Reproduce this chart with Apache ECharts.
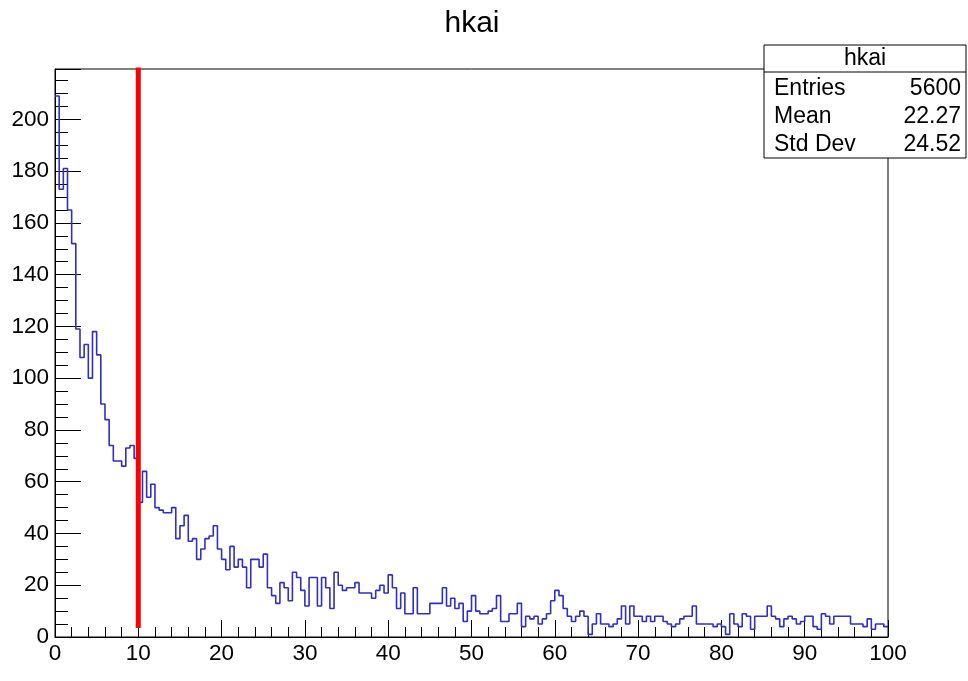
<!DOCTYPE html>
<html>
<head>
<meta charset="utf-8">
<script src="https://cdn.jsdelivr.net/npm/echarts@6/dist/echarts.min.js"></script>
<style>html,body{margin:0;padding:0;background:#fff;}#c{width:968px;height:681px;}</style>
</head>
<body>
<div id="c"></div>
<script>
// histogram "hkai": 200 bins from 0 to 100
const histTitle = 'hkai';
const binLow = 0;
const binHigh = 100;
const binCounts = [
209,173,181,165,152,119,108,113,100,118,
109,90,84,74,68,68,66,73,74,69,
52,64,54,59,50,49,48,48,50,38,
43,47,37,38,30,34,38,39,43,34,
30,26,35,27,30,27,19,30,30,27,
32,19,16,13,21,19,14,25,23,18,
12,23,23,12,23,19,11,25,20,18,
19,19,21,17,17,17,15,18,20,17,
24,19,11,17,9,9,19,9,9,9,
13,13,13,19,12,15,11,13,6,10,
16,10,9,9,10,11,16,6,6,9,
9,13,4,8,7,8,5,7,9,14,
18,16,11,8,6,8,10,8,1,5,
9,5,5,4,5,7,12,5,12,8,
8,6,8,6,8,8,6,5,4,5,
7,8,8,12,5,5,5,5,4,5,
4,1,9,5,4,9,8,3,8,8,
8,12,8,7,4,7,8,7,5,6,
8,8,4,3,9,8,5,8,8,8,
8,5,5,5,4,7,3,5,5,4
];
const statLabels = ['Entries', 'Mean', 'Std Dev'];
const statValues = ['5600', '22.27', '24.52'];
const cutLineX = [10, 10];
const cutLineY = [3.5, 220];
const xTickLabels = [0,10,20,30,40,50,60,70,80,90,100];
const yTickLabels = [0,20,40,60,80,100,120,140,160,180,200];
const yMax = 219.45;

const nb = binCounts.length;
const bw = (binHigh - binLow) / nb;
const histData = binCounts.map((v, i) => [binLow + i * bw, v]);
histData.push([binHigh, binCounts[nb - 1]]);

const font = '"Liberation Sans", Arial, Helvetica, sans-serif';
const chart = echarts.init(document.getElementById('c'), null, {renderer: 'canvas'});

const SX = 764, SY = 45, SW = 202, SH = 113;
const statFont = '23px ' + font;
chart.setOption({
  animation: false,
  backgroundColor: '#fff',
  grid: {left: 55, right: 80, top: 69, bottom: 44, show: true, borderColor: '#000', borderWidth: 1},
  xAxis: {
    type: 'value', min: binLow, max: binHigh, interval: 10,
    axisLine: {show: true, onZero: false, lineStyle: {color: '#000', width: 1}},
    axisTick: {show: true, inside: true, length: 17, lineStyle: {color: '#000', width: 1}},
    minorTick: {show: true, splitNumber: 5, length: 10, lineStyle: {color: '#000', width: 1}},
    splitLine: {show: false},
    axisLabel: {color: '#000', fontFamily: font, fontSize: 22.5, margin: 5,
      formatter: v => xTickLabels.indexOf(v) >= 0 ? String(v) : ''}
  },
  yAxis: {
    type: 'value', min: 0, max: yMax, interval: 20,
    axisLine: {show: true, onZero: false, lineStyle: {color: '#000', width: 1}},
    axisTick: {show: true, inside: true, length: 26, lineStyle: {color: '#000', width: 1}},
    minorTick: {show: true, splitNumber: 4, length: 13, lineStyle: {color: '#000', width: 1}},
    splitLine: {show: false},
    axisLabel: {color: '#000', fontFamily: font, fontSize: 22.5, margin: 6,
      formatter: v => yTickLabels.indexOf(v) >= 0 ? String(v) : ''}
  },
  series: [
    {
      type: 'line', step: 'end', data: histData, symbol: 'none',
      lineStyle: {color: '#2f2fc0', width: 1.6}, z: 3
    },
    {
      type: 'line', data: cutLineX.map((x, i) => [x, cutLineY[i]]), symbol: 'none', clip: false,
      lineStyle: {color: '#ff0000', width: 5}, z: 4
    }
  ],
  graphic: [
    {type: 'text', x: 472, y: 24, style: {text: histTitle, fill: '#000', font: '30px ' + font, textAlign: 'center', textVerticalAlign: 'middle'}, z: 101},
    {type: 'rect', shape: {x: SX, y: SY, width: SW, height: SH}, style: {fill: '#fff', stroke: '#000', lineWidth: 1}, z: 100},
    {type: 'line', shape: {x1: SX, y1: SY + 27, x2: SX + SW, y2: SY + 27}, style: {stroke: '#000', lineWidth: 1}, z: 101},
    {type: 'text', x: SX + SW / 2, y: SY + 14, style: {text: histTitle, fill: '#000', font: statFont, textAlign: 'center', textVerticalAlign: 'middle'}, z: 101},
    ...statLabels.map((t, i) => ({type: 'text', x: SX + 10, y: SY + 44 + i * 28, style: {text: t, fill: '#000', font: statFont, textAlign: 'left', textVerticalAlign: 'middle'}, z: 101})),
    ...statValues.map((t, i) => ({type: 'text', x: SX + SW - 5, y: SY + 44 + i * 28, style: {text: t, fill: '#000', font: statFont, textAlign: 'right', textVerticalAlign: 'middle'}, z: 101}))
  ]
});
</script>
</body>
</html>
